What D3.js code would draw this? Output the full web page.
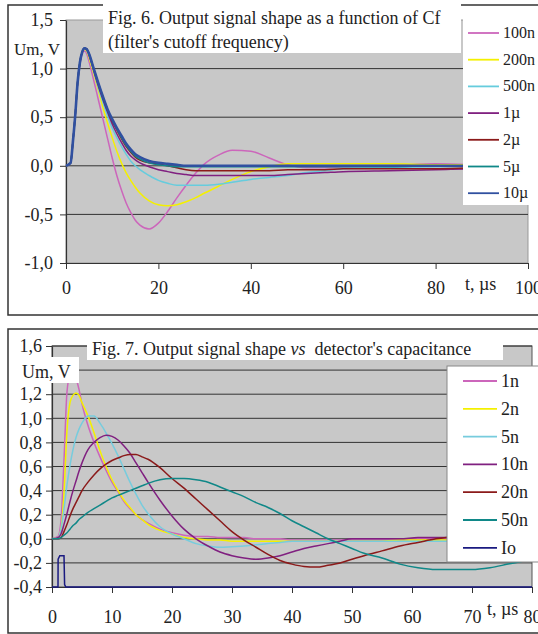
<!DOCTYPE html>
<html lang="en">
<head>
    <meta charset="UTF-8">
    <title>Output signal shape</title>
    <script src="https://d3js.org/d3.v7.min.js"></script>
    <style>
        body {
            margin: 0;
            background: white;
        }
    </style>
</head>
<body>
    <script>
        // Fig. 6 - filter cutoff (Cf)
        var timeA = [0, 1, 1.5, 2, 2.5, 3, 3.5, 4, 4.5, 5, 6, 7, 8, 9, 10, 11, 12, 13, 14, 15, 16,
            18, 20, 22, 24, 26, 28, 30, 33, 36, 40, 44, 48, 52, 56, 60, 70, 80, 90, 100];
        var cf100n = [0, 0.03, 0.25, 0.52, 0.84, 1.04, 1.15, 1.18, 1.15, 1.07,
            0.88, 0.68, 0.48, 0.28, 0.08, -0.10, -0.25, -0.38, -0.48, -0.56, -0.61,
            -0.65, -0.59, -0.47, -0.33, -0.20, -0.08, 0.02,
            0.11, 0.16, 0.15, 0.08, 0.01, -0.02, -0.02, -0.01,
            0.00, 0.02, 0.01, 0.00];
        var cf200n = [0, 0.03, 0.25, 0.52, 0.85, 1.06, 1.17, 1.20, 1.18, 1.11,
            0.95, 0.78, 0.60, 0.44, 0.29, 0.15, 0.03, -0.07, -0.15, -0.22, -0.28,
            -0.36, -0.40, -0.41, -0.40, -0.37, -0.33, -0.28,
            -0.21, -0.14, -0.06, -0.01, 0.02, 0.02, 0.02, 0.02,
            0.02, 0.01, 0.01, 0.00];
        var cf500n = [0, 0.03, 0.25, 0.52, 0.85, 1.06, 1.17, 1.21, 1.19, 1.13,
            0.97, 0.80, 0.65, 0.51, 0.39, 0.29, 0.20, 0.12, 0.05, 0.00, -0.04,
            -0.10, -0.15, -0.18, -0.20, -0.20, -0.20, -0.20,
            -0.19, -0.17, -0.14, -0.12, -0.10, -0.07, -0.05, -0.03,
            -0.02, -0.01, -0.01, 0.00];
        var cf1u = [0, 0.03, 0.25, 0.52, 0.85, 1.06, 1.17, 1.21, 1.20, 1.14,
            0.98, 0.82, 0.68, 0.55, 0.43, 0.33, 0.24, 0.16, 0.10, 0.06, 0.03,
            -0.01, -0.04, -0.06, -0.08, -0.09, -0.10, -0.10,
            -0.10, -0.10, -0.10, -0.10, -0.09, -0.08, -0.07, -0.06,
            -0.05, -0.04, -0.03, -0.03];
        var cf2u = [0, 0.03, 0.25, 0.52, 0.85, 1.06, 1.17, 1.21, 1.20, 1.15,
            0.99, 0.84, 0.70, 0.57, 0.46, 0.37, 0.28, 0.20, 0.14, 0.09, 0.06,
            0.03, 0.02, 0.00, -0.02, -0.04, -0.05, -0.05,
            -0.05, -0.05, -0.05, -0.05, -0.04, -0.04, -0.04, -0.03,
            -0.03, -0.03, -0.02, -0.02];
        var cf5u = [0, 0.03, 0.25, 0.52, 0.85, 1.06, 1.17, 1.21, 1.20, 1.15,
            1.00, 0.85, 0.71, 0.58, 0.47, 0.38, 0.29, 0.21, 0.15, 0.10, 0.07,
            0.03, 0.01, 0.00, -0.01, -0.01, -0.01, -0.01,
            -0.01, -0.01, -0.01, -0.01, -0.01, -0.01, -0.01, -0.01,
            -0.01, 0.00, 0.00, 0.00];
        var cf10u = [0, 0.03, 0.25, 0.52, 0.85, 1.06, 1.17, 1.21, 1.20, 1.15,
            1.00, 0.85, 0.71, 0.58, 0.48, 0.39, 0.31, 0.23, 0.17, 0.12, 0.09,
            0.05, 0.03, 0.02, 0.01, 0.00, 0.00, 0.00,
            0, 0, 0, 0, 0, 0, 0, 0,
            0, 0, 0, 0];
        var namesA = ["100n", "200n", "500n", "1µ", "2µ", "5µ", "10µ"];
        var xTicksA = [0, 20, 40, 60, 80, 100];
        var yTicksA = [-1, -0.5, 0, 0.5, 1, 1.5];

        // Fig. 7 - detector capacitance
        var timeB = [0, 1, 1.5, 2, 2.5, 3, 3.5, 4, 4.5, 5, 6, 7, 8, 9, 10, 11, 12, 13, 14, 15, 16,
            18, 20, 22, 24, 26, 28, 30, 32, 34, 36, 38, 40, 42, 44, 46, 48, 50,
            52, 55, 58, 61, 64, 67, 70, 73, 76, 78, 80];
        var cd1n = [0, 0.02, 0.15, 0.65, 1.22, 1.36, 1.38, 1.33, 1.24, 1.12,
            0.94, 0.80, 0.68, 0.57, 0.47, 0.39, 0.31, 0.25, 0.20, 0.16, 0.13,
            0.08, 0.05, 0.03, 0.02, 0.02, 0.01, 0.01, 0.01, 0.00, 0.00, 0.00, -0.01, -0.01, -0.01, -0.01, -0.01, -0.01,
            -0.01, -0.01, -0.01, 0.00, 0.00, 0.00, 0.00, 0.00, 0.00, 0.00, 0.00];
        var cd2n = [0, 0.01, 0.08, 0.38, 0.90, 1.13, 1.19, 1.21, 1.19, 1.13,
            1.02, 0.88, 0.73, 0.60, 0.49, 0.40, 0.32, 0.26, 0.20, 0.16, 0.12,
            0.07, 0.04, 0.01, 0.00, -0.01, -0.01, -0.02, -0.02, -0.02, -0.02, -0.02, -0.02, -0.02, -0.02, -0.02, -0.02, -0.02,
            -0.02, -0.02, -0.01, -0.01, -0.01, -0.01, 0.00, 0.00, 0.00, 0.00, 0.00];
        var cd5n = [0, 0.01, 0.08, 0.25, 0.45, 0.61, 0.74, 0.84, 0.91, 0.96,
            1.02, 1.02, 0.96, 0.88, 0.79, 0.69, 0.58, 0.47, 0.37, 0.28, 0.21,
            0.10, 0.04, 0.00, -0.04, -0.06, -0.07, -0.065, -0.06, -0.05, -0.04, -0.03, -0.02, -0.02, -0.02, -0.02, -0.02, -0.02,
            -0.02, -0.02, -0.02, -0.02, -0.02, -0.02, -0.02, -0.02, -0.02, -0.02, -0.02];
        var cd10n = [0, 0.01, 0.04, 0.12, 0.21, 0.31, 0.40, 0.48, 0.56, 0.63,
            0.74, 0.80, 0.84, 0.86, 0.85, 0.82, 0.77, 0.71, 0.63, 0.55, 0.47,
            0.32, 0.19, 0.08, 0.00, -0.06, -0.11, -0.14, -0.16, -0.17, -0.16, -0.14, -0.11, -0.08, -0.06, -0.04, -0.02, 0.00,
            0.00, 0.00, 0.00, 0.01, 0.01, 0.01, 0.01, 0.01, 0.01, 0.01, 0.01];
        var cd20n = [0, 0.00, 0.01, 0.06, 0.12, 0.19, 0.25, 0.30, 0.35, 0.40,
            0.47, 0.53, 0.58, 0.62, 0.65, 0.67, 0.69, 0.70, 0.70, 0.68, 0.66,
            0.59, 0.50, 0.42, 0.33, 0.24, 0.15, 0.06, -0.01, -0.07, -0.13, -0.18, -0.21, -0.23, -0.235, -0.22, -0.20, -0.17,
            -0.14, -0.10, -0.06, -0.03, 0.00, 0.02, 0.04, 0.05, 0.05, 0.05, 0.05];
        var cd50n = [0, 0.00, 0.01, 0.03, 0.05, 0.08, 0.11, 0.13, 0.16, 0.18,
            0.22, 0.25, 0.28, 0.31, 0.34, 0.36, 0.38, 0.40, 0.42, 0.44, 0.46,
            0.49, 0.50, 0.50, 0.49, 0.47, 0.43, 0.39, 0.35, 0.30, 0.26, 0.21, 0.15, 0.10, 0.05, 0.00, -0.04, -0.08,
            -0.12, -0.16, -0.21, -0.24, -0.255, -0.255, -0.255, -0.24, -0.21, -0.19, -0.17];
        var ioTime = [0, 1.0, 1.02, 1.3, 2.0, 2.1, 2.3, 80];
        var ioValue = [-0.4, -0.4, -0.17, -0.14, -0.14, -0.38, -0.4, -0.4];
        var namesB = ["1n", "2n", "5n", "10n", "20n", "50n", "Io"];
        var xTicksB = [0, 10, 20, 30, 40, 50, 60, 70, 80];
        var yTicksB = [-0.4, -0.2, 0, 0.2, 0.4, 0.6, 0.8, 1, 1.2, 1.4, 1.6];

        var colorsA = ["#cc66bb", "#f4f000", "#66ccdd", "#802080", "#8b1a1a", "#108888", "#3050a0"];
        var colorsB = ["#cc66bb", "#f4f000", "#77ccdd", "#802080", "#8b1a1a", "#108888", "#1a1a80"];

        var serif = '"Liberation Serif", "Times New Roman", serif';
        var w = 538;
        var h = 634;

        var svg = d3.select("body")
            .append("svg")
            .attr("width", w)
            .attr("height", h)
            .style("font-family", serif);

        // comma decimal, plain hyphen
        function commaFormat(d) {
            return (d < 0 ? "-" : "") + Math.abs(d).toFixed(1).replace(".", ",");
        }

        function styleAxis(g) {
            g.attr("font-family", null).attr("font-size", null);
            g.select(".domain").attr("stroke", "#333").attr("stroke-width", 1.2);
            g.selectAll(".tick line").attr("stroke", "#333");
            g.selectAll(".tick text")
                .attr("fill", "#222")
                .style("font-family", serif)
                .style("font-size", "18px");
        }

        function addText(x, y, size, str) {
            return svg.append("text")
                .attr("x", x).attr("y", y)
                .attr("fill", "#222")
                .style("font-family", serif)
                .style("font-size", size + "px")
                .text(str);
        }

        // ---------- Fig. 6 ----------
        var xA = d3.scaleLinear().domain([0, 100]).range([66, 528]);
        var yA = d3.scaleLinear().domain([-1, 1.5]).range([263, 20]);

        svg.append("rect")
            .attr("x", 8).attr("y", 5)
            .attr("width", 560).attr("height", 310)
            .attr("fill", "none")
            .attr("stroke", "#333")
            .attr("stroke-width", 1.5);

        svg.append("rect")
            .attr("x", xA(0)).attr("y", yA(1.5))
            .attr("width", xA(100) - xA(0)).attr("height", yA(-1) - yA(1.5))
            .attr("fill", "#c8c8c8")
            .attr("stroke", "#999");

        svg.append("g")
            .selectAll("line")
            .data([-0.5, 0, 0.5, 1])
            .enter()
            .append("line")
            .attr("x1", xA(0)).attr("x2", xA(100))
            .attr("y1", function (d) { return yA(d); })
            .attr("y2", function (d) { return yA(d); })
            .attr("stroke", "#333");

        svg.append("g")
            .attr("transform", "translate(0," + yA(-1) + ")")
            .call(d3.axisBottom(xA).tickValues(xTicksA).tickSize(6).tickSizeOuter(0).tickPadding(12))
            .call(styleAxis);

        svg.append("g")
            .attr("transform", "translate(" + xA(0) + ",0)")
            .call(d3.axisLeft(yA).tickValues(yTicksA).tickFormat(commaFormat).tickSize(6).tickSizeOuter(0).tickPadding(7))
            .call(styleAxis);

        var seriesA = [cf100n, cf200n, cf500n, cf1u, cf2u, cf5u, cf10u];
        var lineA = d3.line()
            .x(function (d, i) { return xA(timeA[i]); })
            .y(function (d) { return yA(d); })
            .curve(d3.curveMonotoneX);

        svg.append("g")
            .selectAll("path")
            .data(seriesA)
            .enter()
            .append("path")
            .attr("d", lineA)
            .attr("fill", "none")
            .attr("stroke", function (d, i) { return colorsA[i]; })
            .attr("stroke-width", function (d, i) { return i == 6 ? 2.6 : 1.5; });

        // title box
        svg.append("rect")
            .attr("x", 103).attr("y", 0)
            .attr("width", 358).attr("height", 53)
            .attr("fill", "white");
        addText(108, 24, 18, "Fig. 6. Output signal shape as a function of Cf");
        addText(108, 48, 18, "(filter's cutoff frequency)");
        addText(14, 55, 17, "Um, V");
        addText(465, 290, 18, "t, µs");

        // legend
        svg.append("rect")
            .attr("x", 463).attr("y", 6)
            .attr("width", 80).attr("height", 199)
            .attr("fill", "white");

        var legA = svg.append("g")
            .selectAll("g")
            .data(namesA)
            .enter()
            .append("g")
            .attr("transform", function (d, i) { return "translate(0," + (33 + i * 26.7) + ")"; });
        legA.append("line")
            .attr("x1", 468).attr("x2", 499)
            .attr("stroke", function (d, i) { return colorsA[i]; })
            .attr("stroke-width", 1.8);
        legA.append("text")
            .attr("x", 503).attr("y", 5)
            .attr("fill", "#222")
            .style("font-family", serif)
            .style("font-size", "16px")
            .text(function (d) { return d; });

        // ---------- Fig. 7 ----------
        var xB = d3.scaleLinear().domain([0, 80]).range([52, 532]);
        var yB = d3.scaleLinear().domain([-0.4, 1.6]).range([587, 346]);

        svg.append("rect")
            .attr("x", 8).attr("y", 329)
            .attr("width", 560).attr("height", 304)
            .attr("fill", "none")
            .attr("stroke", "#333")
            .attr("stroke-width", 1.5);

        svg.append("rect")
            .attr("x", xB(0)).attr("y", yB(1.6))
            .attr("width", xB(80) - xB(0)).attr("height", yB(-0.4) - yB(1.6))
            .attr("fill", "#c8c8c8")
            .attr("stroke", "#555");

        svg.append("g")
            .selectAll("line")
            .data(yTicksB.slice(1))
            .enter()
            .append("line")
            .attr("x1", xB(0)).attr("x2", xB(80))
            .attr("y1", function (d) { return yB(d); })
            .attr("y2", function (d) { return yB(d); })
            .attr("stroke", "#333");

        svg.append("g")
            .attr("transform", "translate(0," + yB(-0.4) + ")")
            .call(d3.axisBottom(xB).tickValues(xTicksB).tickSize(6).tickSizeOuter(0).tickPadding(17))
            .call(styleAxis);

        // the 1,4 label sits under the "Um, V" box in the original
        svg.append("g")
            .attr("transform", "translate(" + xB(0) + ",0)")
            .call(d3.axisLeft(yB).tickValues(yTicksB)
                .tickFormat(function (d) { return d == 1.4 ? "" : commaFormat(d); })
                .tickSize(6).tickSizeOuter(0).tickPadding(4))
            .call(styleAxis);

        var seriesB = [cd1n, cd2n, cd5n, cd10n, cd20n, cd50n];
        var lineB = d3.line()
            .x(function (d, i) { return xB(timeB[i]); })
            .y(function (d) { return yB(d); })
            .curve(d3.curveMonotoneX);

        svg.append("g")
            .selectAll("path")
            .data(seriesB)
            .enter()
            .append("path")
            .attr("d", lineB)
            .attr("fill", "none")
            .attr("stroke", function (d, i) { return colorsB[i]; })
            .attr("stroke-width", 1.5);

        var ioLine = d3.line()
            .x(function (d, i) { return xB(ioTime[i]); })
            .y(function (d) { return yB(d); });
        svg.append("path")
            .datum(ioValue)
            .attr("d", ioLine)
            .attr("fill", "none")
            .attr("stroke", colorsB[6])
            .attr("stroke-width", 1.5);

        // title box
        svg.append("rect")
            .attr("x", 87).attr("y", 330.5)
            .attr("width", 416).attr("height", 29.5)
            .attr("fill", "white");
        var t7 = addText(92, 355, 18, null);
        t7.append("tspan").text("Fig. 7. Output signal shape ");
        t7.append("tspan").style("font-style", "italic").text("vs");
        t7.append("tspan").attr("dx", 9).text("detector's capacitance");

        svg.append("rect")
            .attr("x", 14).attr("y", 357)
            .attr("width", 65).attr("height", 26)
            .attr("fill", "white");
        addText(22, 378, 18, "Um, V");
        addText(487, 615, 18, "t, µs");

        // legend
        svg.append("rect")
            .attr("x", 447).attr("y", 366)
            .attr("width", 100).attr("height", 196)
            .attr("fill", "white")
            .attr("stroke", "#888");

        var legB = svg.append("g")
            .selectAll("g")
            .data(namesB)
            .enter()
            .append("g")
            .attr("transform", function (d, i) { return "translate(0," + (381 + i * 27.8) + ")"; });
        legB.append("line")
            .attr("x1", 463).attr("x2", 497)
            .attr("stroke", function (d, i) { return colorsB[i]; })
            .attr("stroke-width", 1.8);
        legB.append("text")
            .attr("x", 501).attr("y", 6)
            .attr("fill", "#222")
            .style("font-family", serif)
            .style("font-size", "18px")
            .text(function (d) { return d; });
    </script>
</body>
</html>
